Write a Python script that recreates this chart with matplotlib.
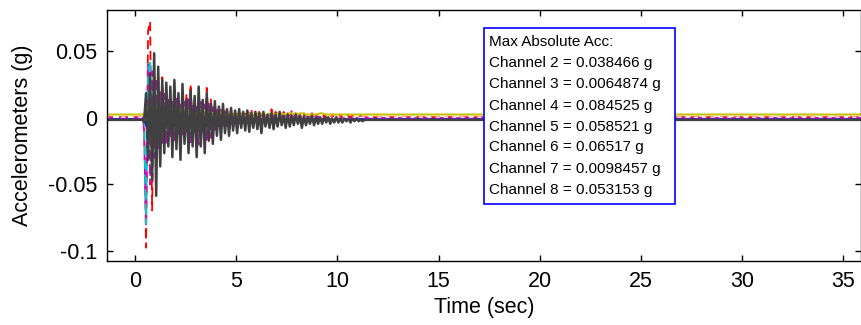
import matplotlib
matplotlib.use("Agg")
import matplotlib.pyplot as plt
from matplotlib.patches import Rectangle
import numpy as np

plt.rcParams['font.family'] = ['Liberation Sans', 'DejaVu Sans']

# sampling of the strong-motion part (sec) and the end of the record
t0_fine, dt_fine = 0.45, 0.1
t0_coarse, dt_coarse = 0.45, 0.25
t_start, t_end = -1.5, 36.5

# channel baselines (g)
base_gray = -0.0015
base_red = 0.0005
base_mag = 0.0
base_cyan = -0.0015
base_blue = -0.001
base_yel = 0.0025
base_white = 0.0005

# fine-grid channels (g)
acc_gray = [
    -0.002, 0.020, -0.030, 0.035, -0.045, 0.050, -0.057, 0.040, -0.035, 0.030,
    -0.025, 0.028, -0.020, 0.025, -0.028, 0.030, -0.022, 0.020, -0.030, 0.027,
    -0.018, 0.015, -0.025, 0.022, -0.020, 0.018, -0.028, 0.025, -0.020, 0.015,
    -0.025, 0.020, -0.015, 0.012, -0.018, 0.014, -0.012, 0.010, -0.015, 0.012,
    -0.010, 0.008, -0.012, 0.009, -0.008, 0.007, -0.010, 0.008, -0.006, 0.006,
    -0.008, 0.007, -0.009, 0.005, -0.006, 0.006, -0.007, 0.005, -0.010, 0.006,
    -0.005, 0.004, -0.006, 0.005, -0.007, 0.004, -0.005, 0.006, -0.004, 0.003,
    -0.006, 0.004, -0.005, 0.003, -0.004, 0.004, -0.003, 0.003, -0.006, 0.003,
    -0.004, 0.002, -0.003, 0.003, -0.004, 0.002, -0.003, 0.002, -0.003, 0.002,
    -0.002, 0.002, -0.003, 0.001, -0.002, 0.002, -0.002, 0.001, -0.002, 0.001,
    -0.001, 0.001, -0.002, 0.001, -0.001, 0.001, -0.001, 0.000, -0.001, 0.000,
]
acc_red = [
    0.003, -0.098, 0.065, 0.072, -0.070, 0.040, -0.035, 0.030, -0.020, 0.030,
    -0.015, 0.022, -0.010, 0.012, -0.012, 0.020, -0.010, 0.012, -0.008, 0.015,
    -0.010, 0.018, -0.012, 0.025, -0.008, 0.012, -0.010, 0.015, -0.006, 0.010,
    -0.010, 0.022, -0.018, 0.014, -0.008, 0.010, -0.006, 0.008, -0.005, 0.006,
    -0.004, 0.006, -0.005, 0.004, -0.003, 0.005, -0.004, 0.006, -0.003, 0.004,
    -0.003, 0.005, -0.002, 0.006, -0.003, 0.004, -0.002, 0.005, -0.002, 0.003,
    -0.002, 0.004, -0.002, 0.006, -0.002, 0.004, -0.002, 0.003, -0.001, 0.004,
    -0.002, 0.003, -0.002, 0.005, -0.001, 0.003, -0.001, 0.002, -0.001, 0.003,
    -0.001, 0.002, -0.001, 0.003, -0.001, 0.002, -0.001, 0.002, -0.001, 0.002,
    0.000, 0.002, -0.001, 0.002, 0.000, 0.001, -0.001, 0.002, 0.000, 0.001,
    0.000, 0.001, 0.000, 0.001, 0.000, 0.001, 0.000, 0.001, 0.000, 0.000,
]
acc_mag = [
    -0.010, -0.080, 0.040, -0.050, 0.035, -0.030, 0.030, -0.025, 0.020, -0.020,
    0.018, -0.020, 0.015, -0.015, 0.012, -0.018, 0.015, -0.012, 0.010, -0.015,
    0.012, -0.010, 0.015, -0.020, 0.010, -0.012, 0.010, -0.020, 0.012, -0.010,
    0.010, -0.018, 0.012, -0.015, 0.008, -0.010, 0.006, -0.008, 0.006, -0.006,
    0.005, -0.006, 0.004, -0.005, 0.004, -0.004, 0.003, -0.005, 0.003, -0.004,
    0.003, -0.003, 0.004, -0.003, 0.002, -0.003, 0.003, -0.002, 0.002, -0.003,
    0.002, -0.002, 0.003, -0.002, 0.002, -0.002, 0.002, -0.002, 0.002, -0.002,
    0.002, -0.001, 0.002, -0.001, 0.001, -0.002, 0.001, -0.001, 0.001, -0.001,
    0.001, -0.001, 0.001, -0.001, 0.001, -0.001, 0.001, -0.001, 0.001, -0.001,
    0.000,
]
acc_cyan = [
    0.003, -0.078, 0.035, 0.045, -0.040, 0.030, -0.025, 0.020, -0.020, 0.015,
    -0.015, 0.012, -0.012, 0.010, -0.010, 0.012, -0.008, 0.010, -0.012, 0.008,
    -0.010, 0.008, -0.006, 0.010, -0.010, 0.006, -0.012, 0.008, -0.006, 0.005,
    -0.008, 0.006, -0.005, 0.004, -0.006, 0.004, -0.005, 0.003, -0.004, 0.003,
    -0.004, 0.003, -0.003, 0.002, -0.004, 0.002, -0.003, 0.002, -0.003, 0.002,
    -0.002, 0.002, -0.003, 0.001, -0.002, 0.002, -0.002, 0.001, -0.002, 0.001,
    -0.002, 0.001, -0.001, 0.001, -0.002, 0.001, -0.001, 0.001, -0.001, 0.001,
    -0.001, 0.001, -0.001, 0.001, -0.001, 0.001, -0.001, 0.001, -0.001, 0.000,
    -0.001, 0.000, -0.001, 0.000, -0.001, 0.000, -0.001, 0.000, -0.001, 0.000,
    0.000,
]

# coarse-grid (weak) channels
acc_blue = [
    0.001, -0.012, 0.008, -0.010, 0.006, -0.008, 0.005, -0.006, 0.004, -0.005,
    0.004, -0.006, 0.003, -0.004, 0.003, -0.003, 0.002, -0.003, 0.002, -0.002,
    0.002, -0.003, 0.001, -0.002, 0.001, -0.002, 0.001, -0.001, 0.001, -0.002,
    0.001, -0.001, 0.001, -0.001, 0.001, -0.001, 0.000, -0.001, 0.000, -0.001,
    0.000,
]
acc_yel = [
    0.000, 0.006, -0.005, 0.004, -0.004, 0.005, -0.003, 0.004, -0.003, 0.003,
    -0.002, 0.003, -0.002, 0.002, -0.002, 0.002, -0.001, 0.002, -0.001, 0.001,
    -0.001, 0.001, -0.001, 0.001, -0.001, 0.001, 0.000, 0.001, 0.000, 0.001,
    0.000, 0.001, 0.000, 0.000, 0.000, 0.001, 0.000, 0.000, 0.000, 0.000,
    0.000,
]
acc_white = [
    0.000, -0.006, 0.007, -0.005, 0.004, -0.004, 0.003, -0.003, 0.003, -0.002,
    0.002, -0.002, 0.002, -0.002, 0.001, -0.001, 0.001, -0.001, 0.001, -0.001,
    0.001, -0.001, 0.001, 0.000, 0.000, 0.000, 0.000, 0.000, 0.000, 0.000,
    0.000, 0.000, 0.000, 0.000, 0.000, 0.000, 0.000, 0.000, 0.000, 0.000,
    0.000,
]

box_title = "Max Absolute Acc:"
box_lines = [
    "Channel 2 = 0.038466 g",
    "Channel 3 = 0.0064874 g",
    "Channel 4 = 0.084525 g",
    "Channel 5 = 0.058521 g",
    "Channel 6 = 0.06517 g",
    "Channel 7 = 0.0098457 g",
    "Channel 8 = 0.053153 g",
]

xticks = [0, 5, 10, 15, 20, 25, 30, 35]
yticks = [-0.1, -0.05, 0, 0.05]
yticklabels = ["-0.1", "-0.05", "0", "0.05"]


def series(t0, dt, vals, base):
    # quiet record before and after the burst sits on the baseline
    tt = t0 + dt * np.arange(len(vals))
    t = np.concatenate([[t_start, t0 - dt / 2], tt, [tt[-1] + dt / 2, t_end]])
    v = np.concatenate([[0.0, 0.0], vals, [0.0, 0.0]]) + base
    return t, v


W, H = 861, 325
fig = plt.figure(figsize=(W / 100, H / 100), dpi=100)
ax = fig.add_axes([107 / W, 1 - 261 / H, (860.5 - 107) / W, (261 - 10) / H])

dash = (0, (5, 3))
ax.plot(*series(t0_fine, dt_fine, acc_red, base_red), color="#ff0000", lw=1.3, ls=dash)
ax.plot(*series(t0_coarse, dt_coarse, acc_blue, base_blue), color="#0000ff", lw=1.5)
ax.plot(*series(t0_fine, dt_fine, acc_mag, base_mag), color="#d000d0", lw=1.3, ls=dash)
ax.plot(*series(t0_coarse, dt_coarse, acc_white, base_white), color="white", lw=1.0, ls=(0, (3, 3)))
ax.plot(*series(t0_fine, dt_fine, acc_cyan, base_cyan), color="#00c8c8", lw=1.3, ls=dash)
ax.plot(*series(t0_coarse, dt_coarse, acc_yel, base_yel), color="#c8c000", lw=1.5)
ax.plot(*series(t0_fine, dt_fine, acc_gray, base_gray), color="#404040", lw=1.8)

ax.set_xlim(-1.38, 35.85)
ax.set_ylim(-0.1075, 0.081)
ax.set_xticks(xticks)
ax.set_yticks(yticks)
ax.set_yticklabels(yticklabels)
ax.tick_params(direction="in", top=True, right=True, length=4, width=1,
               labelsize=15.5, pad=7)
for s in ax.spines.values():
    s.set_linewidth(1.0)

ax.set_xlabel("Time (sec)", fontsize=15.5, labelpad=4)
ax.set_ylabel("Accelerometers (g)", fontsize=15.5)
ax.yaxis.set_label_coords(-0.098, 0.5)

# annotation box
fig.add_artist(Rectangle((484 / W, 1 - 204 / H), 191 / W, 176 / H,
                         transform=fig.transFigure, facecolor="white",
                         edgecolor="#0000ff", lw=1.2, zorder=2))
ys = [41.7, 62.7, 84, 106, 126.7, 147.3, 169.3, 190]
for txt, y in zip([box_title] + box_lines, ys):
    fig.text(489 / W, 1 - y / H, txt, fontsize=11, va="center", ha="left", zorder=3)

fig.savefig("out.png", dpi=100)
